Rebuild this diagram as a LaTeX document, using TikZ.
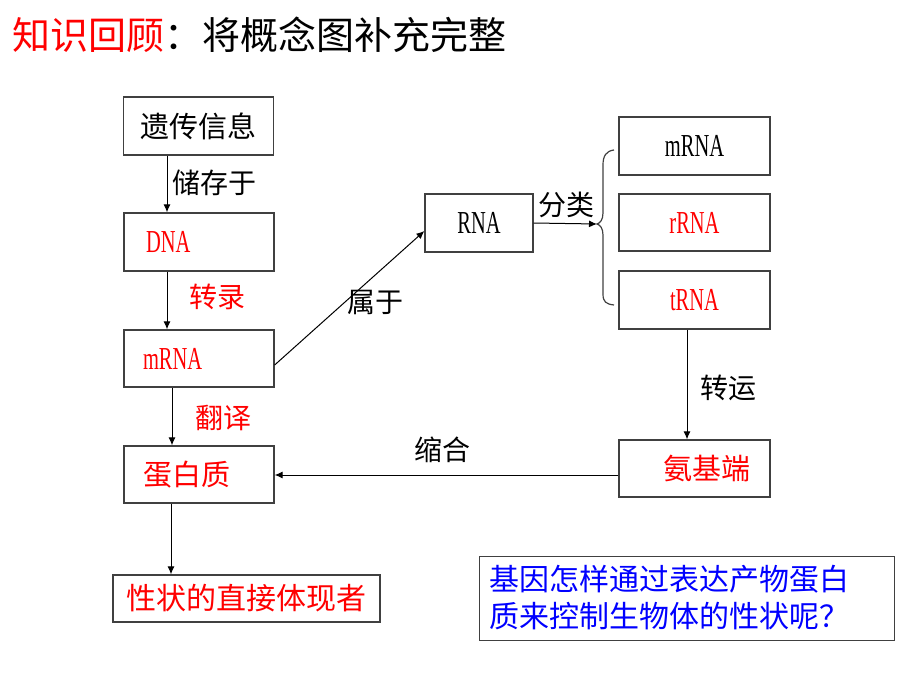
\documentclass[tikz,border=0pt]{standalone}
\usepackage{fontspec}
\setmainfont{Noto Sans CJK SC}
\newfontfamily\rnafont[FakeStretch=0.64]{Liberation Serif}
\usetikzlibrary{positioning}
\usetikzlibrary{calc}
\usetikzlibrary{arrows.meta}
\definecolor{boxgray}{RGB}{64,64,64}

\begin{document}
\begin{tikzpicture}[x=1pt, y=-1pt,
			box/.style={draw=boxgray, line width=1.3pt, minimum width=150pt, minimum height=58pt, inner sep=0pt, font=\fontsize{29}{34}\selectfont},
			leftbox/.style={box, text width=112pt, inner xsep=19pt, align=left},
			latin/.style={font=\fontsize{32}{34}\rnafont},
			tag/.style={font=\fontsize{28}{32}\selectfont},
			>={Latex[length=8pt,width=7pt]}
			]
			\useasboundingbox (0,0) rectangle (920,690);
			
			\node[anchor=west, inner sep=0pt, font=\fontsize{38}{44}\selectfont] at (12,35) (title) {\textcolor{red}{知识回顾}：将概念图补充完整};
			
			\node[box] at (198.5, 126) (info) {遗传信息};
			\node[leftbox, latin, text=red, inner xsep=22pt, text width=106pt] at (199, 242) (dna) {DNA};
			\node[leftbox, latin, text=red, minimum height=57pt] at (199, 358.5) (mrnaL) {mRNA};
			\node[leftbox, text=red, minimum height=57pt] at (199, 474.5) (protein) {蛋白质};
			\node[box, text=red, minimum width=267pt, minimum height=47pt, font=\fontsize{30}{34}\selectfont] at (246.5, 598.5) (trait) {性状的直接体现者};
			\node[box, latin, minimum width=108pt] at (479, 223) (rna) {RNA};
			\node[box, latin, minimum width=151pt] at (694.5, 146) (mrnaR) {mRNA};
			\node[box, latin, text=red, minimum width=151pt, minimum height=57pt] at (694.5, 222.5) (rrna) {rRNA};
			\node[box, latin, text=red, minimum width=151pt] at (694.5, 300) (trna) {tRNA};
			\node[box, text=red, minimum width=151pt, minimum height=57pt, text width=111pt, inner xsep=20pt, align=right] at (694.5, 468.5) (amino) {氨基端};
			\node[draw=boxgray, line width=1pt, minimum width=415pt, minimum height=84pt, text=blue, text width=395pt, inner xsep=10pt, align=left, font=\fontsize{30}{37}\selectfont] at (686.5, 598) (question) {基因怎样通过表达产物蛋白\\质来控制生物体的性状呢？};
			
			\node[tag] at (214, 183) (store) {储存于};
			\node[tag, text=red] at (217, 297) (transcribe) {转录};
			\node[tag, text=red] at (223, 418) (translate) {翻译};
			\node[tag] at (375, 302) (belong) {属于};
			\node[tag] at (566, 205) (classify) {分类};
			\node[tag] at (728, 388) (carry) {转运};
			\node[tag] at (442, 450) (condense) {缩合};
			
			\draw[->, line width=1pt] ([xshift=-31.5pt]info.south) -- ([xshift=-32pt]dna.north);
			\draw[->, line width=1pt] ([xshift=-32pt]dna.south) -- ([xshift=-32pt]mrnaL.north);
			\draw[->, line width=1pt] ([xshift=-27pt]mrnaL.south) -- ([xshift=-27pt]protein.south |- protein.north);
			\draw[->, line width=1pt] ([xshift=-28pt]protein.south) -- ([xshift=-28pt]protein.south |- trait.north);
			\draw[->, line width=1pt] ([yshift=-6.5pt]mrnaL.east) -- ([yshift=-8pt]rna.west);
			\draw[->, line width=1pt] ([xshift=-7.5pt]trna.south) -- ([xshift=-7.5pt]amino.north);
			\draw[->, line width=1pt] ([yshift=-6.5pt]amino.west) -- ([yshift=-6.5pt]amino.west -| protein.east);
			
			% brace round the three kinds of RNA
			\coordinate (tip) at (597, 224);
			\draw[->, line width=1pt] (rna.east) -- (tip);
			\draw[boxgray, line width=1.2pt] (614, 150) .. controls (606, 151) and (603, 156) .. (603, 165) -- (603, 213)
				.. controls (603, 220) and (600, 223) .. (tip) .. controls (600, 225) and (603, 228) .. (603, 235)
				-- (603, 294) .. controls (603, 302) and (606, 304) .. (614, 305);
		\end{tikzpicture}
\end{document}
